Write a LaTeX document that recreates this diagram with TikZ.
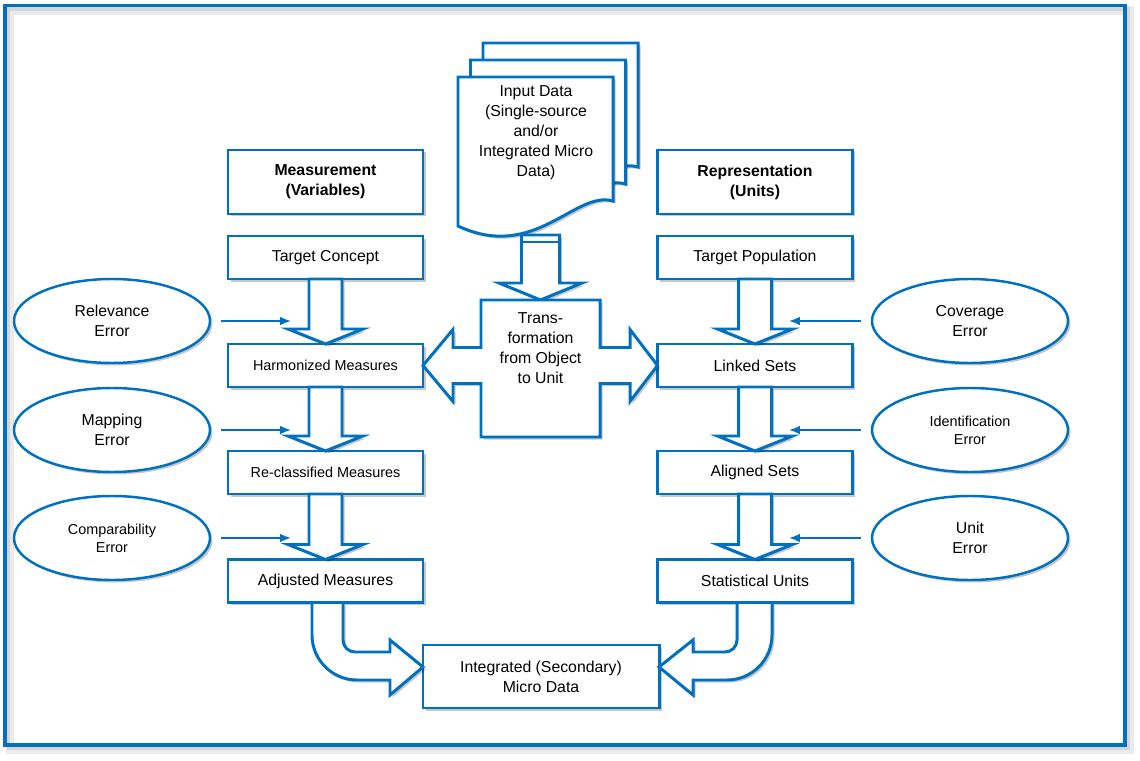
\documentclass[tikz,border=0pt]{standalone}
\usepackage{fontspec}
\setmainfont{Liberation Sans}
\usepackage{tikz}
\usetikzlibrary{arrows.meta, shapes.geometric, shadows}
\definecolor{frameblue}{HTML}{0070C0}
\tikzstyle{boxshadow}=[drop shadow={shadow xshift=0.05cm, shadow yshift=-0.05cm, fill=black, opacity=0.22}]
\tikzstyle{box}=[rectangle, draw=frameblue, line width=1.7pt, fill=white, boxshadow, minimum width=3.9cm, minimum height=0.86cm, outer sep=0pt, inner sep=1pt, align=center, font=\fontsize{9}{11.4}\selectfont]
\tikzstyle{headbox}=[box, minimum height=1.28cm, font=\fontsize{9}{11.4}\selectfont\bfseries]
\tikzstyle{smalltext}=[font=\fontsize{8.2}{10.2}\selectfont]
\tikzstyle{err}=[ellipse, draw=frameblue, line width=1.4pt, fill=white, boxshadow, minimum width=3.92cm, minimum height=1.68cm, inner sep=0pt, align=center, font=\fontsize{9}{11.4}\selectfont]
\tikzstyle{blockarrow}=[draw=frameblue, line width=1.7pt, fill=white, boxshadow, line join=miter]
\tikzstyle{docpage}=[draw=frameblue, line width=1.7pt, fill=white, boxshadow]
\tikzstyle{errarrow}=[draw=frameblue, line width=1.1pt, -{Latex[length=2.2mm, width=1.7mm]}]

\begin{document}
\begin{tikzpicture}
	\useasboundingbox (0,0) rectangle (22.8,15.2);
	% frame
	\draw[black!8, line width=5pt] (0.2,14.99) rectangle (22.6,0.2);
	\draw[black!16, line width=2pt] (0.17,15.02) rectangle (22.57,0.23);
	\draw[frameblue, line width=2pt] (0.1,15.09) rectangle (22.5,0.3);

	% input document
	\foreach \s in {2,1,0}
		\draw[docpage, shift={(0.25*\s, 0.34*\s)}] (9.16,13.66) -- (12.26,13.66) -- (12.26,11.18) .. controls (11.5,11.4) and (10.7,9.96) .. (9.16,10.68) -- cycle;
	\node[align=center, font=\fontsize{9}{11.4}\selectfont] (inp) at (10.72, 12.54) {Input Data\\(Single-source\\and/or\\Integrated Micro\\Data)};

	\node[headbox] (meas) at (6.51, 11.56) {Measurement\\(Variables)};
	\node[headbox] (repr) at (15.1, 11.56) {Representation\\(Units)};
	\node[box] (tc) at (6.51, 10.05) {Target Concept};
	\node[box] (tp) at (15.1, 10.05) {Target Population};
	\node[box, smalltext] (hm) at (6.51, 7.89) {Harmonized Measures};
	\node[box] (ls) at (15.1, 7.89) {Linked Sets};
	\node[box, smalltext] (rm) at (6.51, 5.75) {Re-classified Measures};
	\node[box] (as) at (15.1, 5.75) {Aligned Sets};
	\node[box] (am) at (6.51, 3.58) {Adjusted Measures};
	\node[box] (su) at (15.1, 3.58) {Statistical Units};
	\node[box, minimum width=4.72cm, minimum height=1.26cm] (imd) at (10.82, 1.67) {Integrated (Secondary)\\Micro Data};

	\node[err] (rel) at (2.24, 8.78) {Relevance\\Error};
	\node[err] (map) at (2.24, 6.6) {Mapping\\Error};
	\node[err, smalltext] (comp) at (2.24, 4.44) {Comparability\\Error};
	\node[err] (cov) at (19.4, 8.78) {Coverage\\Error};
	\node[err, smalltext] (ident) at (19.4, 6.6) {Identification\\Error};
	\node[err] (unit) at (19.4, 4.44) {Unit\\Error};

	\foreach \a/\b in {tc/hm, hm/rm, rm/am, tp/ls, ls/as, as/su}
		\draw[blockarrow] ([xshift=-0.33cm]\a.south) -- ([xshift=-0.33cm, yshift=0.3cm]\b.north) -- ([xshift=-0.75cm, yshift=0.3cm]\b.north) -- (\b.north) -- ([xshift=0.75cm, yshift=0.3cm]\b.north) -- ([xshift=0.33cm, yshift=0.3cm]\b.north) -- ([xshift=0.33cm]\a.south) -- cycle;

	\foreach \e in {rel, map, comp}
		\draw[errarrow] ([xshift=0.2cm]\e.east) -- ++(1.4,0);
	\foreach \e in {cov, ident, unit}
		\draw[errarrow] ([xshift=-0.2cm]\e.west) -- ++(-1.44,0);

	% transformation
	\draw[blockarrow] (10.43,10.5) -- (10.43,9.54) -- (9.98,9.54) -- (10.81,9.2) -- (11.64,9.54) -- (11.19,9.54) -- (11.19,10.5) -- cycle;
	\draw[frameblue, line width=1.2pt] (10.43,10.36) -- (11.19,10.36);
	\draw[blockarrow] (9.62,9.2) -- (12.0,9.2) -- (12.0,8.25) -- (12.6,8.25) -- (12.6,8.61) -- (ls.west) -- (12.6,7.17) -- (12.6,7.53) -- (12.0,7.53) -- (12.0,6.46) -- (9.62,6.46) -- (9.62,7.53) -- (9.06,7.53) -- (9.06,7.17) -- (hm.east) -- (9.06,8.61) -- (9.06,8.25) -- (9.62,8.25) -- cycle;
	\node[align=center, font=\fontsize{9}{11.4}\selectfont] (tr) at (10.81, 8.24) {Trans-\\formation\\from Object\\to Unit};

	% into integrated data
	\draw[blockarrow] (6.86,3.15) -- (6.86,2.4) arc[start angle=180, end angle=270, radius=0.24] -- (7.8,2.16) -- (7.8,2.4) -- ([yshift=0.19cm]imd.west) -- (7.8,1.3) -- (7.8,1.6) -- (7.14,1.6) arc[start angle=270, end angle=180, radius=0.9] -- (6.24,3.15) -- cycle;
	\draw[blockarrow] (14.74,3.15) -- (14.74,2.4) arc[start angle=0, end angle=-90, radius=0.24] -- (13.86,2.16) -- (13.86,2.4) -- ([yshift=0.19cm]imd.east) -- (13.86,1.3) -- (13.86,1.6) -- (14.54,1.6) arc[start angle=270, end angle=360, radius=0.9] -- (15.44,3.15) -- cycle;
\end{tikzpicture}
\end{document}
